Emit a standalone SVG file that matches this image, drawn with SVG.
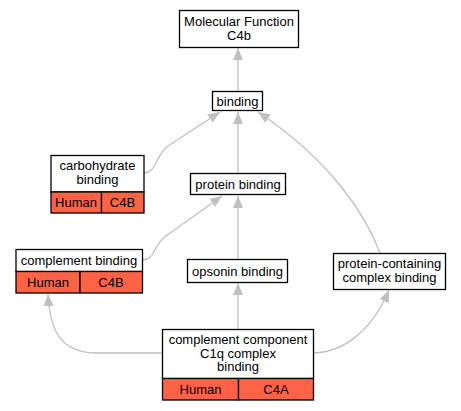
<svg xmlns="http://www.w3.org/2000/svg" width="461" height="411" viewBox="0 0 461 411">
<defs>
<marker id="arr" viewBox="0 0 12 10" refX="12" refY="5" markerWidth="12" markerHeight="10" markerUnits="userSpaceOnUse" orient="auto">
<path d="M0,0 L12,5 L0,10 Z" fill="#c0c0c0"/>
</marker>
</defs>
<style>
.box{fill:#fff;stroke:#000;stroke-width:1.3}
.red{fill:#ff6347;stroke:#000;stroke-width:1.3}
.e{fill:none;stroke:#c0c0c0;stroke-width:1.3;marker-end:url(#arr)}
text{font-family:"Liberation Sans",Arial,sans-serif;font-size:13px;text-anchor:middle;fill:#000}
</style>
<rect width="461" height="411" fill="#fff"/>
<g id="edges">
<path class="e" d="M238,91 L238,48"/>
<path class="e" d="M144,173 C157,172 155,156 168,146 L220,112"/>
<path class="e" d="M238,173 L238,112"/>
<path class="e" d="M380,253 C366,215 330,160 258,112"/>
<path class="e" d="M143,260 C156,259 153,245 166,236 L222,196"/>
<path class="e" d="M238,260 L238,196"/>
<path class="e" d="M238,329 L238,283"/>
<path class="e" d="M163,353 L95,353 C60,352 50,330 48,294"/>
<path class="e" d="M313,353 C345,352 372,330 389,290"/>
</g>
<g id="mf">
<rect class="box" x="179.5" y="10.5" width="119" height="37"/>
<text x="239" y="26">Molecular Function</text>
<text x="239" y="40">C4b</text>
</g>
<g id="binding">
<rect class="box" x="212.5" y="91.5" width="50" height="19"/>
<text x="237.5" y="105.5">binding</text>
</g>
<g id="carb">
<rect class="box" x="51" y="155.5" width="93" height="36.5"/>
<text x="97.5" y="170">carbohydrate</text>
<text x="97.5" y="184">binding</text>
<rect class="red" x="51" y="192" width="50.5" height="21"/>
<rect class="red" x="101.5" y="192" width="42.5" height="21"/>
<text x="76" y="207">Human</text>
<text x="122.5" y="207">C4B</text>
</g>
<g id="protein">
<rect class="box" x="190.5" y="173.5" width="95" height="21"/>
<text x="238" y="188.5">protein binding</text>
</g>
<g id="compl">
<rect class="box" x="16" y="249.5" width="126.5" height="22"/>
<text x="79" y="265">complement binding</text>
<rect class="red" x="16" y="271.5" width="64" height="21.5"/>
<rect class="red" x="80" y="271.5" width="62.5" height="21.5"/>
<text x="48" y="286.5">Human</text>
<text x="111" y="286.5">C4B</text>
</g>
<g id="opsonin">
<rect class="box" x="187.5" y="259.5" width="100" height="23"/>
<text x="237.5" y="275.5">opsonin binding</text>
</g>
<g id="pcc">
<rect class="box" x="333.5" y="253.5" width="112" height="36"/>
<text x="389.5" y="268">protein-containing</text>
<text x="389.5" y="281.5">complex binding</text>
</g>
<g id="c1q">
<rect class="box" x="162.5" y="329.5" width="151" height="49"/>
<text x="238" y="344">complement component</text>
<text x="238" y="357.5">C1q complex</text>
<text x="238" y="371">binding</text>
<rect class="red" x="162.5" y="378.5" width="76" height="21.5"/>
<rect class="red" x="238.5" y="378.5" width="75" height="21.5"/>
<text x="200.5" y="393.5">Human</text>
<text x="276" y="393.5">C4A</text>
</g>
</svg>
